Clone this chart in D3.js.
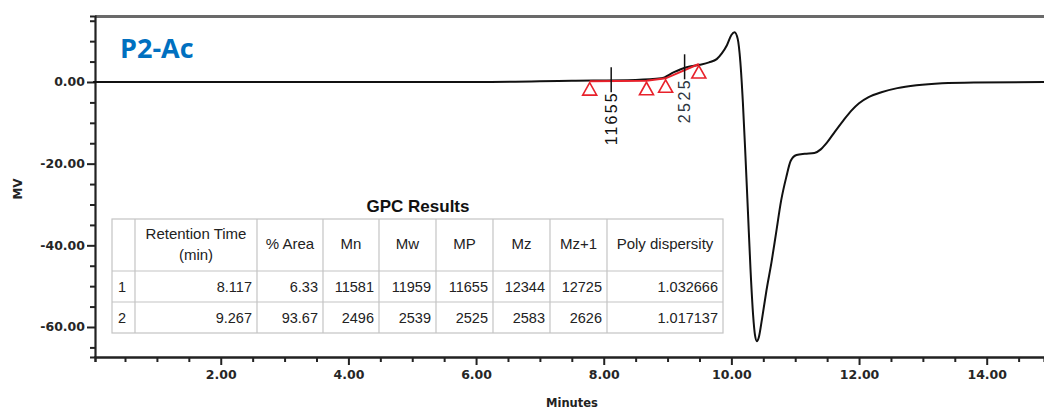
<!DOCTYPE html>
<html>
<head>
<meta charset="utf-8">
<script src="https://cdn.jsdelivr.net/npm/d3@7"></script>
<style>
  body { margin: 0; background: #fff; }
  .tick text { font-family: "DejaVu Sans", Verdana, sans-serif; font-weight: bold; fill: #262626; }
</style>
</head>
<body>
<div id="vis"></div>
<script>
// chromatogram trace (minutes, mV)
const timeMin = [0, 6.0, 7.5, 8.5, 8.9, 9.1, 9.3, 9.5, 9.65, 9.77, 9.85, 9.93, 10.0, 10.05,
  10.1, 10.14, 10.18, 10.22, 10.26, 10.3, 10.34, 10.37, 10.4, 10.43, 10.48, 10.55, 10.63,
  10.7, 10.78, 10.86, 10.93, 11.02, 11.15, 11.3, 11.4, 11.5, 11.62, 11.75, 11.88, 12.0,
  12.15, 12.35, 12.6, 12.9, 13.3, 13.8, 14.9];
const signalMV = [0, 0, 0.3, 0.5, 0.9, 2.4, 3.6, 4.2, 4.8, 5.6, 7.0, 9.0, 11.5, 12.2,
  10.5, 5, -5, -18, -32, -46, -57, -62, -63.5, -62.5, -58, -51, -44,
  -37, -29, -23.3, -19.3, -17.9, -17.6, -17.4, -16.5, -14.8, -12.2, -9.5, -7.0, -5.2,
  -3.7, -2.5, -1.5, -0.8, -0.3, -0.1, 0];

// integration baseline markers (red triangles)
const markTime = [7.78, 8.67, 8.97, 9.49];
const markMV = [0.2, 0.3, 0.9, 4.4];

// peak apex labels
const peakTime = [8.117, 9.267];
const peakMV = [0.4, 3.6];
const peakLabel = ["11655", "2525"];
const peakLabelLen = [52, 43];

// axis ticks
const xTicks = d3.range(0.5, 14.51, 0.5);
const xLabelTicks = [2, 4, 6, 8, 10, 12, 14];
const yTicks = d3.range(-65, 16, 5);
const yLabelTicks = [0, -20, -40, -60];

// GPC results table
const tableHead = [["", ""], ["Retention Time", "(min)"], ["% Area"], ["Mn"], ["Mw"], ["MP"], ["Mz"], ["Mz+1"], ["Poly dispersity"]];
const tableRows = [
  ["1", "8.117", "6.33", "11581", "11959", "11655", "12344", "12725", "1.032666"],
  ["2", "9.267", "93.67", "2496", "2539", "2525", "2583", "2626", "1.017137"]
];

const W = 1044, H = 412;
const svg = d3.select("#vis").append("svg")
  .attr("width", W).attr("height", H);

const X = d3.scaleLinear().domain([0.03, 14.9]).range([95, 95 + 14.87 * 63.83]);
const Y = d3.scaleLinear().domain([-67.35, 16.16]).range([357, 16]);

const fmt = d => d3.format(".2f")(d).replace("\u2212", "-");

// top frame line
svg.append("line")
  .attr("x1", 95).attr("x2", W).attr("y1", 16.5).attr("y2", 16.5)
  .attr("stroke", "#6a6a6a").attr("stroke-width", 3);

// left axis
const yAxis = svg.append("g")
  .attr("transform", "translate(95,0)")
  .call(d3.axisLeft(Y).tickValues(yTicks)
    .tickSize(5).tickPadding(8)
    .tickFormat(d => yLabelTicks.includes(d) ? fmt(d) : ""));
yAxis.select(".domain").attr("stroke", "#222").attr("stroke-width", 2.2);
yAxis.selectAll(".tick line").attr("stroke", "#222").attr("stroke-width", 2)
  .attr("x2", d => yLabelTicks.includes(d) ? -8 : -5);
yAxis.selectAll(".tick text").attr("font-size", 12.5).attr("x", -10);

// bottom axis
const xAxis = svg.append("g")
  .attr("transform", "translate(0,357)")
  .call(d3.axisBottom(X).tickValues(xTicks)
    .tickSize(5).tickPadding(8)
    .tickFormat(d => xLabelTicks.includes(d) ? fmt(d) : ""));
xAxis.select(".domain").attr("stroke", "#222").attr("stroke-width", 2.5);
xAxis.selectAll(".tick line").attr("stroke", "#222").attr("stroke-width", 2)
  .attr("y2", d => xLabelTicks.includes(d) ? 8 : 5);
xAxis.selectAll(".tick text").attr("font-size", 12.5);

// axis titles
svg.append("text")
  .attr("transform", "translate(18,189) rotate(-90)")
  .attr("text-anchor", "middle").attr("dy", "0.35em")
  .attr("font-family", "DejaVu Sans, sans-serif").attr("font-weight", "bold")
  .attr("font-size", 12).attr("fill", "#222")
  .text("MV");
svg.append("text")
  .attr("x", 572).attr("y", 407)
  .attr("text-anchor", "middle")
  .attr("font-family", "DejaVu Sans, sans-serif").attr("font-weight", "bold")
  .attr("font-size", 11.5).attr("fill", "#222")
  .text("Minutes");

// trace
const trace = timeMin.map((t, i) => [t, signalMV[i]]);
svg.append("path")
  .datum(trace)
  .attr("fill", "none")
  .attr("stroke", "#111")
  .attr("stroke-width", 2)
  .attr("d", d3.line().x(d => X(d[0])).y(d => Y(d[1])).curve(d3.curveMonotoneX));

// red baseline and triangles
const marks = markTime.map((t, i) => [t, markMV[i]]);
svg.append("path")
  .datum(marks)
  .attr("fill", "none")
  .attr("stroke", "#e8212b")
  .attr("stroke-width", 2)
  .attr("d", d3.line().x(d => X(d[0])).y(d => Y(d[1])));
svg.selectAll(".tri")
  .data(marks)
  .enter()
  .append("path")
  .attr("class", "tri")
  .attr("fill", "none")
  .attr("stroke", "#e8212b")
  .attr("stroke-width", 1.6)
  .attr("d", d => {
    const cx = X(d[0]), cy = Y(d[1]);
    return "M" + cx + "," + (cy + 1.5) + "L" + (cx + 7) + "," + (cy + 14) + "L" + (cx - 7) + "," + (cy + 14) + "Z";
  });

// peak markers
peakTime.forEach((t, i) => {
  const px = X(t), py = Y(peakMV[i]);
  svg.append("line")
    .attr("x1", px).attr("x2", px)
    .attr("y1", py - 13).attr("y2", py + 12)
    .attr("stroke", "#111").attr("stroke-width", 1.5);
  svg.append("text")
    .attr("transform", "translate(" + px + "," + (py + 13) + ") rotate(-90)")
    .attr("text-anchor", "end").attr("dy", "0.36em")
    .attr("font-family", "Liberation Sans, Arial, sans-serif")
    .attr("font-size", 16).attr("fill", i == 0 ? "#111" : "#2c3440")
    .attr("textLength", peakLabelLen[i]).attr("lengthAdjust", "spacing")
    .text(peakLabel[i]);
});

// title
svg.append("text")
  .attr("x", 120).attr("y", 58)
  .attr("font-family", "Open Sans, sans-serif").attr("font-weight", "bold")
  .attr("font-size", 27).attr("fill", "#0070c0")
  .text("P2-Ac");

// table
const colX = [112, 135, 257, 323, 379, 436, 493, 550, 607, 723];
const rowY = [219, 271, 302, 333];
const tbl = svg.append("g")
  .attr("font-family", "Liberation Sans, Arial, sans-serif")
  .attr("font-size", 14.5).attr("fill", "#222");

tbl.append("rect")
  .attr("x", colX[0]).attr("y", rowY[0])
  .attr("width", colX[9] - colX[0]).attr("height", rowY[3] - rowY[0])
  .attr("fill", "#fff").attr("stroke", "#c4c4c4").attr("stroke-width", 1.2);
colX.slice(1, 9).forEach(cx => {
  tbl.append("line").attr("x1", cx).attr("x2", cx)
    .attr("y1", rowY[0]).attr("y2", rowY[3])
    .attr("stroke", "#c4c4c4").attr("stroke-width", 1.2);
});
rowY.slice(1, 3).forEach(ry => {
  tbl.append("line").attr("x1", colX[0]).attr("x2", colX[9])
    .attr("y1", ry).attr("y2", ry)
    .attr("stroke", "#c4c4c4").attr("stroke-width", 1.2);
});

tableHead.forEach((lines, c) => {
  const cx = (colX[c] + colX[c + 1]) / 2;
  if (lines.length == 2) {
    lines.forEach((s, k) => {
      tbl.append("text").attr("x", cx).attr("y", 239 + k * 21)
        .attr("text-anchor", "middle").attr("font-size", 15).text(s);
    });
  } else {
    tbl.append("text").attr("x", cx).attr("y", 249)
      .attr("text-anchor", "middle").attr("font-size", 15).text(lines[0]);
  }
});

tableRows.forEach((row, r) => {
  const by = (rowY[r + 1] + rowY[r + 2]) / 2 + 5;
  row.forEach((s, c) => {
    if (c == 0) {
      tbl.append("text").attr("x", colX[0] + 6).attr("y", by).text(s);
    } else {
      tbl.append("text").attr("x", colX[c + 1] - 5).attr("y", by)
        .attr("text-anchor", "end").text(s);
    }
  });
});

svg.append("text")
  .attr("x", 418).attr("y", 212)
  .attr("text-anchor", "middle")
  .attr("font-family", "Liberation Sans, Arial, sans-serif")
  .attr("font-weight", "bold").attr("font-size", 17).attr("fill", "#111")
  .text("GPC Results");
</script>
</body>
</html>
